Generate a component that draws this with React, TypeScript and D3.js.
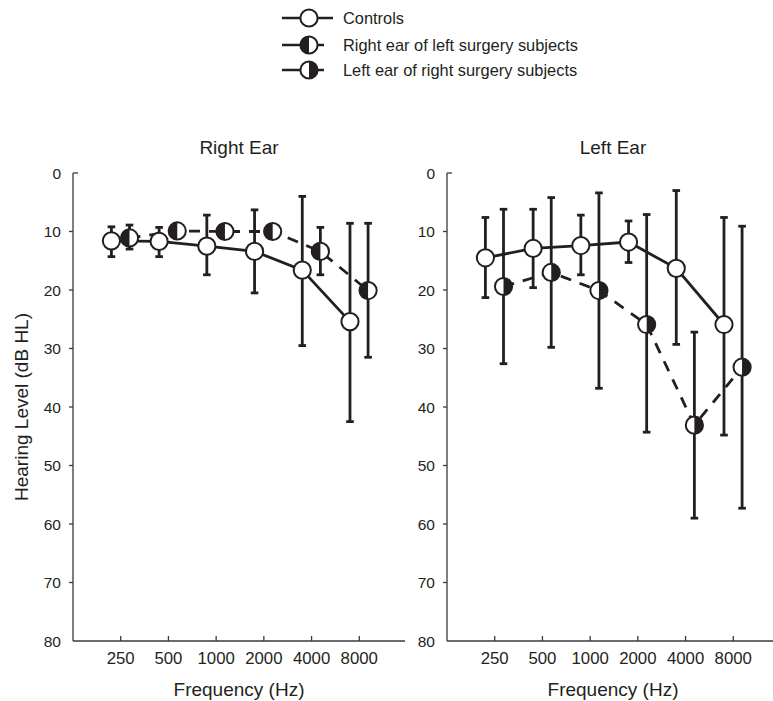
import React from "react";
import * as d3 from "d3";

const frequencies = ["250", "500", "1000", "2000", "4000", "8000"];
const yTicks = [0, 10, 20, 30, 40, 50, 60, 70, 80];

// Right Ear panel
const rightControlMean = [11.6, 11.7, 12.5, 13.4, 16.6, 25.4];
const rightControlTop = [9.2, 9.3, 7.2, 6.3, 4.0, 8.6];
const rightControlBottom = [14.3, 14.3, 17.4, 20.5, 29.5, 42.5];
const rightSurgMean = [11.1, 9.9, 10.0, 10.0, 13.4, 20.1];
const rightSurgTop = [8.9, 9.0, 9.1, 9.1, 9.3, 8.6];
const rightSurgBottom = [13.0, 10.8, 10.9, 10.9, 17.4, 31.5];

// Left Ear panel
const leftControlMean = [14.5, 12.9, 12.4, 11.8, 16.3, 25.9];
const leftControlTop = [7.6, 6.2, 7.2, 8.2, 3.0, 7.6];
const leftControlBottom = [21.3, 19.6, 17.4, 15.3, 29.3, 44.8];
const leftSurgMean = [19.4, 17.0, 20.1, 25.9, 43.1, 33.2];
const leftSurgTop = [6.2, 4.2, 3.4, 7.1, 27.2, 9.1];
const leftSurgBottom = [32.6, 29.8, 36.8, 44.3, 59.0, 57.3];

const legendLabels = [
  "Controls",
  "Right ear of left surgery subjects",
  "Left ear of right surgery subjects",
];

const INK = "#231f20";
const AXIS = "#3a3a3a";
const FONT = "'Liberation Sans', Arial, Helvetica, sans-serif";
const R = 8.6;

type HalfType = "none" | "left" | "right";

function Marker({ cx, cy, half }: { cx: number; cy: number; half: HalfType }) {
  let d = "";
  if (half === "left") d = `M${cx},${cy - R} A${R},${R} 0 0 0 ${cx},${cy + R} Z`;
  if (half === "right") d = `M${cx},${cy - R} A${R},${R} 0 0 1 ${cx},${cy + R} Z`;
  return (
    <g>
      <circle cx={cx} cy={cy} r={R} fill="#fff" />
      {d && <path d={d} fill={INK} />}
      <circle cx={cx} cy={cy} r={R} fill="none" stroke={INK} strokeWidth={2} />
    </g>
  );
}

type Series = { mean: number[]; top: number[]; bottom: number[]; offset: number; dashed: boolean; half: HalfType };

function Panel({
  x0,
  x1,
  axisEnd,
  title,
  series,
  showYLabel,
}: {
  x0: number;
  x1: number;
  axisEnd: number;
  title: string;
  series: Series[];
  showYLabel: boolean;
}) {
  const y = d3.scaleLinear().domain([0, 80]).range([173, 641]);
  const x = d3.scaleLinear().domain([0, 7]).range([x0, x1]);
  const axisMid = (x0 + Math.min(axisEnd, x0 + 332)) / 2;
  return (
    <g>
      <text x={axisMid} y={154} textAnchor="middle" fontSize={19} fontFamily={FONT} fill={INK}>
        {title}
      </text>
      {/* axes */}
      <line x1={x0} x2={x0} y1={y(0)} y2={y(80)} stroke={AXIS} strokeWidth={1.3} />
      <line x1={x0} x2={axisEnd} y1={y(80)} y2={y(80)} stroke={AXIS} strokeWidth={1.3} />
      <line x1={x0} x2={x0 + 5} y1={y(0)} y2={y(0)} stroke={AXIS} strokeWidth={1.3} />
      {yTicks.map((t) => (
        <g key={t}>
          {t !== 0 && t !== 80 && (
            <line x1={x0 - 4} x2={x0} y1={y(t)} y2={y(t)} stroke={AXIS} strokeWidth={1.3} />
          )}
          <text x={x0 - 12} y={y(t) + 5.5} textAnchor="end" fontSize={15.5} fontFamily={FONT} fill={INK}>
            {t}
          </text>
        </g>
      ))}
      {frequencies.map((f, i) => (
        <g key={f}>
          <line x1={x(i + 1)} x2={x(i + 1)} y1={y(80)} y2={y(80) - 5} stroke={AXIS} strokeWidth={1.3} />
          <text x={x(i + 1)} y={y(80) + 22.5} textAnchor="middle" fontSize={16.8} fontFamily={FONT} fill={INK}>
            {f}
          </text>
        </g>
      ))}
      <text x={axisMid} y={696} textAnchor="middle" fontSize={19} fontFamily={FONT} fill={INK}>
        Frequency (Hz)
      </text>
      {showYLabel && (
        <text
          transform={`translate(28,${(y(0) + y(80)) / 2}) rotate(-90)`}
          textAnchor="middle"
          fontSize={19}
          fontFamily={FONT}
          fill={INK}
        >
          Hearing Level (dB HL)
        </text>
      )}
      {/* lines */}
      {series.map((s, si) => {
        const gen = d3
          .line<number>()
          .x((_, i) => x(i + 1) + s.offset)
          .y((d) => y(d));
        return (
          <path
            key={"l" + si}
            d={gen(s.mean) || ""}
            fill="none"
            stroke={INK}
            strokeWidth={2.8}
            strokeDasharray={s.dashed ? "11,9" : undefined}
          />
        );
      })}
      {/* error bars */}
      {series.map((s, si) =>
        s.mean.map((m, i) => {
          const cx = x(i + 1) + s.offset;
          return (
            <g key={"e" + si + "-" + i}>
              <line x1={cx} x2={cx} y1={y(s.top[i])} y2={y(s.bottom[i])} stroke={INK} strokeWidth={2.8} />
              <line x1={cx - 3.8} x2={cx + 3.8} y1={y(s.top[i])} y2={y(s.top[i])} stroke={INK} strokeWidth={2.8} />
              <line x1={cx - 3.8} x2={cx + 3.8} y1={y(s.bottom[i])} y2={y(s.bottom[i])} stroke={INK} strokeWidth={2.8} />
            </g>
          );
        })
      )}
      {/* markers */}
      {series.map((s, si) =>
        s.mean.map((m, i) => <Marker key={"m" + si + "-" + i} cx={x(i + 1) + s.offset} cy={y(m)} half={s.half} />)
      )}
    </g>
  );
}

export default function App() {
  const legendY = [18, 45, 70];
  const legendHalf: HalfType[] = ["none", "left", "right"];
  return (
    <svg width={773} height={701} style={{ position: "absolute", left: 0, top: 0, background: "#fff" }}>
      <rect width={773} height={701} fill="#fff" />
      {legendLabels.map((lab, i) => (
        <g key={lab}>
          {i === 0 ? (
            <line x1={282} x2={333} y1={legendY[i]} y2={legendY[i]} stroke={INK} strokeWidth={2.5} />
          ) : (
            <g>
              <line x1={282} x2={300} y1={legendY[i]} y2={legendY[i]} stroke={INK} strokeWidth={2.5} />
              <line x1={317} x2={324} y1={legendY[i]} y2={legendY[i]} stroke={INK} strokeWidth={2.5} />
            </g>
          )}
          <Marker cx={309} cy={legendY[i]} half={legendHalf[i]} />
          <text x={343} y={legendY[i] + 6} fontSize={16.4} fontFamily={FONT} fill={INK}>
            {lab}
          </text>
        </g>
      ))}
      <Panel
        x0={73}
        x1={407}
        axisEnd={405}
        title="Right Ear"
        showYLabel={true}
        series={[
          { mean: rightControlMean, top: rightControlTop, bottom: rightControlBottom, offset: -9.3, dashed: false, half: "none" },
          { mean: rightSurgMean, top: rightSurgTop, bottom: rightSurgBottom, offset: 8.8, dashed: true, half: "left" },
        ]}
      />
      <Panel
        x0={447}
        x1={781}
        axisEnd={779}
        title="Left Ear"
        showYLabel={false}
        series={[
          { mean: leftControlMean, top: leftControlTop, bottom: leftControlBottom, offset: -9.3, dashed: false, half: "none" },
          { mean: leftSurgMean, top: leftSurgTop, bottom: leftSurgBottom, offset: 8.8, dashed: true, half: "right" },
        ]}
      />
    </svg>
  );
}
